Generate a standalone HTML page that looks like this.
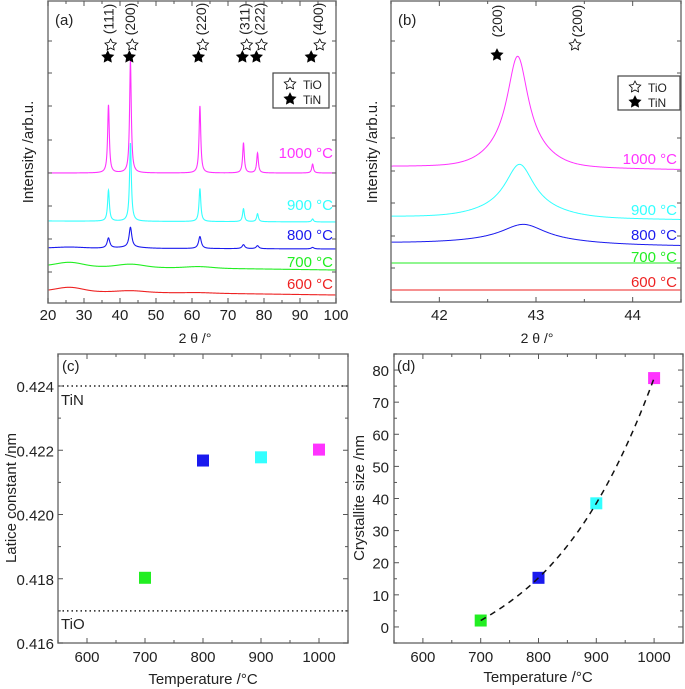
<!DOCTYPE html>
<html><head><meta charset="utf-8"><style>
html,body{margin:0;padding:0;background:#fff;}
svg{display:block;font-family:"Liberation Sans",sans-serif;}
</style></head><body>
<svg id="fig" width="685" height="689" viewBox="0 0 685 689" xmlns="http://www.w3.org/2000/svg"></svg>
<script>
// ---------- Panel (a) data ----------
const aTemps = ["1000 °C","900 °C","800 °C","700 °C","600 °C"];
const aColors = ["#ff33ff","#33ffff","#1a1aee","#22ee22","#ee2222"];
const aPeakPos = [36.8, 42.9, 62.2, 74.3, 78.2, 93.5];
const aOffsets = [129, 80, 53, 32, 7];
const aSlope = [0, 1, 1, 4, 4];
const aHeights1000 = [68, 112, 67, 30, 20, 9];
const aHeights900 = [31, 78, 33, 13, 8, 3];
const aHeights800 = [10, 20, 12, 4, 3, 1.5];
const aHeights700 = [0, 0, 0, 0, 0, 0];
const aHeights600 = [0, 0, 0, 0, 0, 0];
const aWidths = [0.28, 0.3, 0.45, 0.6, 0.6];
const aHumpPos = [26, 43, 62];
const aHumps700 = [4, 3, 1.5];
const aHumps600 = [4, 1.5, 0.5];
const aHumps800 = [1, 1, 0];
const aTicks = [20,30,40,50,60,70,80,90,100];
const aHkl = ["(111)","(200)","(220)","(311)","(222)","(400)"];
const aTiNStars = [36.6, 42.6, 61.8, 74.0, 77.9, 93.1];
const aTiOStars = [37.4, 43.4, 63.0, 75.2, 79.3, 95.5];
// ---------- Panel (b) data ----------
const bPeakPos = [42.81, 42.83, 42.87, 42.85, 42.85];
const bOffsets = [132, 82, 56, 39, 12];
const bHeights = [112, 54, 20, 0, 0];
const bWidths = [0.13, 0.18, 0.28, 0.3, 0.3];
const bTicks = [42, 43, 44];
// ---------- Panel (c) data ----------
const cTemps = [700, 800, 900, 1000];
const cLattice = [0.41803, 0.42168, 0.42178, 0.42202];
const cRefTiN = 0.424;
const cRefTiO = 0.417;
const cYTicks = [0.416, 0.418, 0.420, 0.422, 0.424];
const tTicks = [600, 700, 800, 900, 1000];
// ---------- Panel (d) data ----------
const dTemps = [700, 800, 900, 1000];
const dSize = [2, 15.3, 38.5, 77.5];
const dYTicks = [0,10,20,30,40,50,60,70,80];
const ptColors = ["#22ee22","#1a1aee","#33ffff","#ff33ff"];

const NS="http://www.w3.org/2000/svg";
const svg=document.getElementById('fig');
function mk(tag,attrs,parent){const e=document.createElementNS(NS,tag);for(const k in attrs)e.setAttribute(k,attrs[k]);(parent||svg).appendChild(e);return e;}
function txt(s,x,y,attrs,parent){const t=mk('text',Object.assign({x:x,y:y,'font-size':13,fill:'#222'},attrs),parent);t.textContent=s;return t;}
function lin(d,r){return v=>r[0]+(v-d[0])/(d[1]-d[0])*(r[1]-r[0]);}
const STAR="M0,-6 L1.76,-2.43 L5.7,-1.85 L2.85,0.93 L3.53,4.85 L0,3 L-3.53,4.85 L-2.85,0.93 L-5.7,-1.85 L-1.76,-2.43Z";
function star(x,y,filled,name){const s=mk('path',{d:STAR,transform:`translate(${x},${y})`,fill:filled?'#000':'#fff',stroke:'#000','stroke-width':0.8});

return s;}
function box(x0,y0,x1,y1,name){const r=mk('rect',{x:x0,y:y0,width:x1-x0,height:y1-y0,fill:'none',stroke:'#777','stroke-width':1.5});

}
function xTicks(sx,vals,minorStep,lo,hi,y0,y1,labelY,fs,name){
  for(let v=lo;v<=hi+1e-9;v+=minorStep){const x=sx(v);const maj=vals.some(t=>Math.abs(t-v)<1e-9);const L=maj?5:3;
    mk('line',{x1:x,x2:x,y1:y1,y2:y1-L,stroke:'#555','stroke-width':1});mk('line',{x1:x,x2:x,y1:y0,y2:y0+L,stroke:'#555','stroke-width':1});}
  vals.forEach(v=>{const t=txt(String(v),sx(v),labelY,{'text-anchor':'middle','font-size':fs});
  
  });
}
function yTicksNoLabel(x0,x1,ys){ys.forEach(y=>{mk('line',{x1:x0,x2:x0+4,y1:y,y2:y,stroke:'#555'});mk('line',{x1:x1,x2:x1-4,y1:y,y2:y,stroke:'#555'});});}

// ===== Panel (a) =====
const ax=lin([20,100],[48,336]); const ay=v=>302-v;
const gA=mk('g',{});
const aHeights=[aHeights1000,aHeights900,aHeights800,aHeights700,aHeights600];
const aHumps=[[0,0,0],[0,0,0],aHumps800,aHumps700,aHumps600];
for(let s=4;s>=0;s--){
  let d='';
  for(let x=20;x<=100.001;x+=0.04){
    let v=aOffsets[s]+aSlope[s]*(100-x)/80;
    aPeakPos.forEach((c,i)=>{const u=(x-c)/aWidths[s];v+=aHeights[s][i]/(1+u*u);});
    aHumpPos.forEach((c,i)=>{const u=(x-c)/5;v+=aHumps[s][i]*Math.exp(-u*u);});
    d+=(d?'L':'M')+ax(x).toFixed(2)+','+Math.max(1,ay(v)).toFixed(2);
  }
  const p=mk('path',{d:d,fill:'none',stroke:aColors[s],'stroke-width':1.1},gA);
  
  
}
const aLabY=[158,210,240,267,289];
aTemps.forEach((t,i)=>{const e=txt(t,333,aLabY[i],{'text-anchor':'end','font-size':15,fill:aColors[i]},gA);

});
aTiNStars.forEach((v,i)=>star(ax(v),57,true,'tin-star-'+i));
aTiOStars.forEach((v,i)=>star(ax(v),45,false,'tio-star-'+i));
aHkl.forEach((h,i)=>{const x=ax(aTiOStars[i])-1;const t=txt(h,0,0,{'font-size':14,'text-anchor':'middle',transform:`translate(${x+4},19) rotate(-90)`},gA);

});
box(48,1,336,303,'plot-a-frame');
xTicks(ax,aTicks,5,20,100,1,303,320,15,'x-tick-a');
yTicksNoLabel(48,336,[41,73,106,140,173,206,239,272]);
let e=txt('(a)',55,25,{'font-size':15});
e=txt('Intensity /arb.u.',0,0,{'font-size':15,'text-anchor':'middle',transform:'translate(33,152) rotate(-90)'});
e=txt('2 θ /°',195,343,{'font-size':14,'text-anchor':'middle'});
// legend
function legend(x0,y0,x1,y1,name){const r=mk('rect',{x:x0,y:y0,width:x1-x0,height:y1-y0,fill:'#fff',stroke:'#444','stroke-width':1.2});

star(x0+17,y0+11,false,name+'-tio-symbol');star(x0+17,y0+26,true,name+'-tin-symbol');
let t=txt('TiO',x0+30,y0+16,{'font-size':12});
t=txt('TiN',x0+30,y0+31,{'font-size':12});}
legend(273,73,329,108,'legend-a');

// ===== Panel (b) =====
const bx=lin([41.5,44.5],[391,681]); const by=v=>302-v;
for(let s=4;s>=0;s--){
  let d='';
  for(let x=41.5;x<=44.5001;x+=0.005){
    let v=bOffsets[s]+(s<3?3*(44.5-x)/3:0);
    const u=(x-bPeakPos[s])/bWidths[s];v+=bHeights[s]*(0.85/(1+u*u)+0.15*Math.exp(-u*u/8));
    d+=(d?'L':'M')+bx(x).toFixed(2)+','+by(v).toFixed(2);
  }
  const p=mk('path',{d:d,fill:'none',stroke:aColors[s],'stroke-width':1});
  
  
}
const bLabY=[164,215,240,262,287];
aTemps.forEach((t,i)=>{const e=txt(t,677,bLabY[i],{'text-anchor':'end','font-size':15,fill:aColors[i]});

});
star(497,55,true,'tin-star-b');star(575,45,false,'tio-star-b');
e=txt('(200)',0,0,{'font-size':14,'text-anchor':'middle',transform:'translate(502,21) rotate(-90)'});
e=txt('(200)',0,0,{'font-size':14,'text-anchor':'middle',transform:'translate(582,21) rotate(-90)'});
box(391,1,681,302,'plot-b-frame');
xTicks(bx,bTicks,0.5,41.5,44.5,1,302,320,15,'x-tick-b');
yTicksNoLabel(391,681,[41,73,106,138,171,203,236,268]);
e=txt('(b)',398,25,{'font-size':15});
e=txt('Intensity /arb.u.',0,0,{'font-size':15,'text-anchor':'middle',transform:'translate(377,152) rotate(-90)'});
e=txt('2 θ /°',537,343,{'font-size':14,'text-anchor':'middle'});
legend(618,76,680,110,'legend-b');

// ===== Panel (c) =====
const cx=lin([550,1050],[58,348]); const cy=lin([0.416,0.424],[643,386]);
[cRefTiN,cRefTiO].forEach((v,i)=>{const l=mk('line',{x1:58,x2:348,y1:cy(v),y2:cy(v),stroke:'#222','stroke-width':1.5,'stroke-dasharray':'1.5,3'});
});
e=txt('TiN',61,cy(cRefTiN)+19,{'font-size':15});
e=txt('TiO',61,cy(cRefTiO)+18,{'font-size':15});
cTemps.forEach((t,i)=>{const r=mk('rect',{x:cx(t)-6,y:cy(cLattice[i])-6,width:12,height:12,fill:ptColors[i]});
});
box(58,354,348,643,'plot-c-frame');
xTicks(cx,tTicks,50,550,1050,354,643,662,15,'x-tick-c');
for(let v=0.416;v<=0.42401;v+=0.001){const y=cy(v);const maj=Math.round(v*1000)%2===0;const L=maj?5:3;
 mk('line',{x1:58,x2:58+L,y1:y,y2:y,stroke:'#555'});mk('line',{x1:348,x2:348-L,y1:y,y2:y,stroke:'#555'});}
cYTicks.forEach(v=>{const t=txt(v.toFixed(3),54,cy(v)+6,{'text-anchor':'end','font-size':15});});
e=txt('(c)',62,371,{'font-size':15});
e=txt('Latice constant /nm',0,0,{'font-size':15,'text-anchor':'middle',transform:'translate(16,498) rotate(-90)'});
e=txt('Temperature /°C',203,684,{'font-size':15,'text-anchor':'middle'});

// ===== Panel (d) =====
const dx=lin([550,1050],[394,683]); const dy=lin([-5,85],[643,354]);
function lag(t){let s=0;for(let i=0;i<dTemps.length;i++){let p=dSize[i];for(let j=0;j<dTemps.length;j++)if(j!==i)p*=(t-dTemps[j])/(dTemps[i]-dTemps[j]);s+=p;}return s;}
let dd='';for(let t=dTemps[0];t<=dTemps[dTemps.length-1]+0.01;t+=2){dd+=(dd?'L':'M')+dx(t).toFixed(2)+','+dy(lag(t)).toFixed(2);}
dTemps.forEach((t,i)=>{const r=mk('rect',{x:dx(t)-6,y:dy(dSize[i])-6,width:12,height:12,fill:ptColors[i]});
});
const fit=mk('path',{d:dd,fill:'none',stroke:'#111','stroke-width':1.5,'stroke-dasharray':'6,5'});

box(394,354,683,643,'plot-d-frame');
xTicks(dx,tTicks,50,550,1050,354,643,662,15,'x-tick-d');
for(let v=-5;v<=85;v+=5){const y=dy(v);const maj=v%10===0;const L=maj?5:3;
 mk('line',{x1:394,x2:394+L,y1:y,y2:y,stroke:'#555'});mk('line',{x1:683,x2:683-L,y1:y,y2:y,stroke:'#555'});}
dYTicks.forEach(v=>{const t=txt(String(v),389,dy(v)+6,{'text-anchor':'end','font-size':15});});
e=txt('(d)',397,371,{'font-size':15});
e=txt('Crystallite size /nm',0,0,{'font-size':15,'text-anchor':'middle',transform:'translate(364,498) rotate(-90)'});
e=txt('Temperature /°C',538,682,{'font-size':15,'text-anchor':'middle'});
</script>
</body></html>
